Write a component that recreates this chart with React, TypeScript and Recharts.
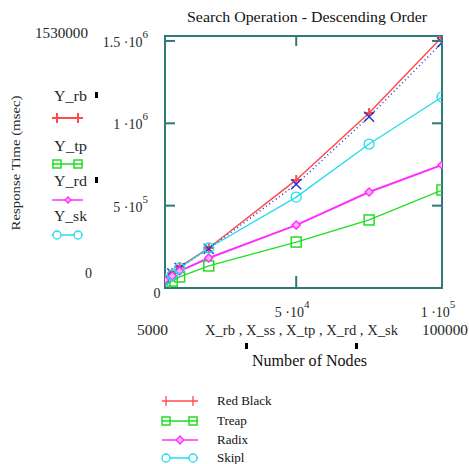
import React from 'react';
import { LineChart, Line, XAxis, YAxis, ReferenceArea } from 'recharts';

// ---------- data ----------
const xNodes = [5000, 7500, 10000, 20000, 50000, 75000, 100000];
const yRedBlack = [61000, 91000, 127000, 243000, 656000, 1062000, 1524000];
const ySs = [60000, 88000, 122000, 238000, 630000, 1040000, 1490000];
const yTreap = [24000, 42000, 67000, 134000, 279000, 413000, 595000];
const yRadix = [49000, 73000, 103000, 182000, 382000, 583000, 747000];
const ySkipl = [49000, 79000, 121000, 243000, 552000, 874000, 1160000];

const xTicks = [50000, 100000];
const xTickBase = ['5 ·10', '1 ·10'];
const xTickExp = ['4', '5'];
const yTicks = [0, 500000, 1000000, 1500000];
const yTickBase = ['0', '5 ·10', '1 ·10', '1.5 ·10'];
const yTickExp = ['', '5', '6', '6'];

const title = 'Search Operation - Descending Order';
const yTitle = 'Response Time (msec)';
const xTitle = 'Number of Nodes';
const xVarLabel = 'X_rb , X_ss , X_tp , X_rd , X_sk';
const xMinLabel = '5000';
const xMaxLabel = '100000';
const yMaxLabel = '1530000';
const yMinLabel = '0';
const sideNames = ['Y_rb', 'Y_tp', 'Y_rd', 'Y_sk'];
const legendNames = ['Red Black', 'Treap', 'Radix', 'Skipl'];

// ---------- style ----------
const W = 469;
const H = 464;
const PL = 165;
const PR = 442;
const PT = 36;
const PB = 288;
const AX = 30;
const FONT = '"Liberation Serif", "DejaVu Serif", serif';
const TXT = '#1f2a2a';
const FRAME = '#2f7a76';
const C_RED = '#ff4a4a';
const C_BLUE = '#2a35d0';
const C_GREEN = '#22dd22';
const C_MAG = '#ff30ff';
const C_CYAN = '#22dcec';

const rows = xNodes.map((x, i) => ({
  x,
  rb: yRedBlack[i],
  ss: ySs[i],
  tp: yTreap[i],
  rd: yRadix[i],
  sk: ySkipl[i],
}));

const plusDot = (color: string) => (p: any) => (
  <path key={`p${p.index}`} d={`M${p.cx - 5},${p.cy}h10M${p.cx},${p.cy - 5}v10`} stroke={color} strokeWidth={2} fill="none" />
);
const xDot = (color: string) => (p: any) => (
  <path key={`x${p.index}`} d={`M${p.cx - 5},${p.cy - 5}l10,10M${p.cx - 5},${p.cy + 5}l10,-10`} stroke={color} strokeWidth={1.5} fill="none" />
);
const squareDot = (color: string) => (p: any) => (
  <rect key={`s${p.index}`} x={p.cx - 5} y={p.cy - 5} width={10} height={10} stroke={color} strokeWidth={1.5} fill="none" />
);
const diamondDot = (color: string) => (p: any) => (
  <path key={`d${p.index}`} d={`M${p.cx},${p.cy - 4}l4,4l-4,4l-4,-4z`} stroke={color} strokeWidth={1.5} fill="#ffb0ff" />
);
const circleDot = (color: string) => (p: any) => (
  <circle key={`c${p.index}`} cx={p.cx} cy={p.cy} r={5} stroke={color} strokeWidth={1.3} fill="none" />
);

const XTick = (props: any) => {
  const { x, payload } = props;
  const i = xTicks.indexOf(payload.value);
  return (
    <g>
      <line x1={x} x2={x} y1={PB} y2={PB - 12} stroke={FRAME} strokeWidth={2} />
      <line x1={x} x2={x} y1={PT} y2={PT + 10} stroke={FRAME} strokeWidth={2} />
      <text x={x - 4} y={317} textAnchor="middle" style={{ fontFamily: FONT }} fontSize={14} fill={TXT}>
        <tspan>{xTickBase[i]}</tspan>
        <tspan dy={-9} fontSize={11}>{xTickExp[i]}</tspan>
      </text>
    </g>
  );
};

const YTick = (props: any) => {
  const { y, payload } = props;
  const i = yTicks.indexOf(payload.value);
  if (payload.value === 0) {
    return (
      <text x={157} y={298} textAnchor="middle" style={{ fontFamily: FONT }} fontSize={14} fill={TXT}>
        {yTickBase[i]}
      </text>
    );
  }
  return (
    <g>
      <line x1={PL} x2={PL + 10} y1={y} y2={y} stroke={FRAME} strokeWidth={2} />
      <line x1={PR - 10} x2={PR} y1={y} y2={y} stroke={FRAME} strokeWidth={2} />
      <text x={148} y={y + 6} textAnchor="end" style={{ fontFamily: FONT }} fontSize={14} fill={TXT}>
        <tspan>{yTickBase[i]}</tspan>
        <tspan dy={-9} fontSize={11}>{yTickExp[i]}</tspan>
      </text>
    </g>
  );
};

const SideGlyph = ({ kind, y }: { kind: number; y: number }) => {
  const a = 57;
  const b = 78;
  if (kind === 0)
    return (
      <g>
        <line x1={52} x2={83} y1={y} y2={y} stroke={C_RED} strokeWidth={2} />
        <line x1={a} x2={a} y1={y - 5} y2={y + 5} stroke={C_RED} strokeWidth={2} />
        <line x1={b} x2={b} y1={y - 5} y2={y + 5} stroke={C_RED} strokeWidth={2} />
      </g>
    );
  if (kind === 1)
    return (
      <g>
        <line x1={52} x2={83} y1={y} y2={y} stroke={C_GREEN} strokeWidth={1.5} />
        <rect x={a - 4} y={y - 4} width={8} height={8} stroke={C_GREEN} strokeWidth={1.5} fill="none" />
        <rect x={b - 4} y={y - 4} width={8} height={8} stroke={C_GREEN} strokeWidth={1.5} fill="none" />
      </g>
    );
  if (kind === 2)
    return (
      <g>
        <line x1={52} x2={83} y1={y} y2={y} stroke={C_MAG} strokeWidth={1.5} />
        <path d={`M68,${y - 3}l3,3l-3,3l-3,-3z`} stroke={C_MAG} strokeWidth={1.3} fill="#ffb0ff" />
      </g>
    );
  return (
    <g>
      <line x1={52} x2={83} y1={y} y2={y} stroke={C_CYAN} strokeWidth={1.5} />
      <circle cx={a} cy={y} r={4} stroke={C_CYAN} strokeWidth={1.3} fill="#fff" />
      <circle cx={b} cy={y} r={4} stroke={C_CYAN} strokeWidth={1.3} fill="#fff" />
    </g>
  );
};

const LegendGlyph = ({ kind, y }: { kind: number; y: number }) => {
  const a = 166;
  const b = 193;
  const x1 = 162;
  const x2 = 198;
  if (kind === 0)
    return (
      <g>
        <line x1={x1} x2={x2} y1={y} y2={y} stroke={C_RED} strokeWidth={1.3} />
        <line x1={a} x2={a} y1={y - 5} y2={y + 5} stroke={C_RED} strokeWidth={1.3} />
        <line x1={b} x2={b} y1={y - 5} y2={y + 5} stroke={C_RED} strokeWidth={1.3} />
      </g>
    );
  if (kind === 1)
    return (
      <g>
        <line x1={x1} x2={x2} y1={y} y2={y} stroke={C_GREEN} strokeWidth={1.5} />
        <rect x={a - 4} y={y - 4} width={8} height={8} stroke={C_GREEN} strokeWidth={1.5} fill="none" />
        <rect x={b - 4} y={y - 4} width={8} height={8} stroke={C_GREEN} strokeWidth={1.5} fill="none" />
      </g>
    );
  if (kind === 2)
    return (
      <g>
        <line x1={x1} x2={x2} y1={y} y2={y} stroke={C_MAG} strokeWidth={1.5} />
        <path d={`M180,${y - 4}l4,4l-4,4l-4,-4z`} stroke={C_MAG} strokeWidth={1.3} fill="#ffb0ff" />
      </g>
    );
  return (
    <g>
      <line x1={x1} x2={x2} y1={y} y2={y} stroke={C_CYAN} strokeWidth={1.5} />
      <circle cx={a} cy={y} r={4} stroke={C_CYAN} strokeWidth={1.3} fill="#fff" />
      <circle cx={b} cy={y} r={4} stroke={C_CYAN} strokeWidth={1.3} fill="#fff" />
    </g>
  );
};

const sideNameY = [101, 151, 186, 221];
const sideGlyphY = [118, 164, 200, 235];
const sideMarks = [0, 2];
const legendGlyphY = [401, 421, 440, 458];
const legendTextY = [405, 425, 444, 462];

export default function App() {
  return (
    <div style={{ position: 'absolute', left: 0, top: 0, width: W, height: H, background: '#fff', fontFamily: FONT }}>
      <LineChart
        width={W}
        height={H}
        data={rows}
        margin={{ top: PT, right: W - PR, bottom: H - PB - AX, left: PL - AX }}
      >
        <XAxis
          type="number"
          dataKey="x"
          domain={[5000, 100000]}
          ticks={xTicks}
          interval={0}
          axisLine={false}
          tickLine={false}
          height={AX}
          tick={<XTick />}
          allowDataOverflow
        />
        <YAxis
          type="number"
          domain={[0, 1530000]}
          ticks={yTicks}
          interval={0}
          axisLine={false}
          tickLine={false}
          width={AX}
          tick={<YTick />}
          allowDataOverflow
        />
        <Line dataKey="rb" stroke={C_RED} strokeWidth={1.5} dot={plusDot(C_RED)} isAnimationActive={false} />
        <Line dataKey="ss" stroke={C_BLUE} strokeWidth={1.5} strokeDasharray="1 3" dot={xDot(C_BLUE)} isAnimationActive={false} />
        <Line dataKey="tp" stroke={C_GREEN} strokeWidth={1.3} dot={squareDot(C_GREEN)} isAnimationActive={false} />
        <Line dataKey="rd" stroke={C_MAG} strokeWidth={2} dot={diamondDot(C_MAG)} isAnimationActive={false} />
        <Line dataKey="sk" stroke={C_CYAN} strokeWidth={1.3} dot={circleDot(C_CYAN)} isAnimationActive={false} />
        <ReferenceArea x1={5000} x2={100000} y1={0} y2={1530000} fill="none" stroke={FRAME} strokeWidth={2} ifOverflow="visible" />
      </LineChart>
      <svg
        width={W}
        height={H}
        style={{ position: 'absolute', left: 0, top: 0, pointerEvents: 'none', fontFamily: FONT }}
      >
        <text x={307} y={22} textAnchor="middle" fontSize={15} fill="#111" textLength={240} lengthAdjust="spacingAndGlyphs">
          {title}
        </text>
        <text x={35} y={38} fontSize={14} fill={TXT} textLength={53} lengthAdjust="spacingAndGlyphs">
          {yMaxLabel}
        </text>
        <text x={85} y={278} fontSize={14} fill={TXT}>
          {yMinLabel}
        </text>
        <text
          transform="translate(20,163) rotate(-90)"
          textAnchor="middle"
          fontSize={13}
          fill={TXT}
          textLength={135}
          lengthAdjust="spacingAndGlyphs"
        >
          {yTitle}
        </text>
        {sideNames.map((n, i) => (
          <text key={n} x={54} y={sideNameY[i]} fontSize={14} fill={TXT} textLength={33} lengthAdjust="spacingAndGlyphs">
            {n}
          </text>
        ))}
        {sideMarks.map((i) => (
          <rect key={`m${i}`} x={95} y={sideNameY[i] - 9} width={3} height={6} fill="#000" />
        ))}
        {sideNames.map((n, i) => (
          <SideGlyph key={`g${n}`} kind={i} y={sideGlyphY[i]} />
        ))}
        <text x={137} y={335} fontSize={14} fill={TXT} textLength={31} lengthAdjust="spacingAndGlyphs">
          {xMinLabel}
        </text>
        <text x={205} y={335} fontSize={14} fill={TXT} textLength={193} lengthAdjust="spacingAndGlyphs">
          {xVarLabel}
        </text>
        <text x={422} y={335} fontSize={14} fill={TXT} textLength={46} lengthAdjust="spacingAndGlyphs">
          {xMaxLabel}
        </text>
        <rect x={245} y={343} width={3} height={6} fill="#000" />
        <rect x={355} y={343} width={3} height={6} fill="#000" />
        <text x={252} y={366} fontSize={16} fill="#111" textLength={115} lengthAdjust="spacingAndGlyphs">
          {xTitle}
        </text>
        {legendNames.map((n, i) => (
          <g key={n}>
            <LegendGlyph kind={i} y={legendGlyphY[i]} />
            <text x={217} y={legendTextY[i]} fontSize={13} fill="#111">
              {n}
            </text>
          </g>
        ))}
      </svg>
    </div>
  );
}
